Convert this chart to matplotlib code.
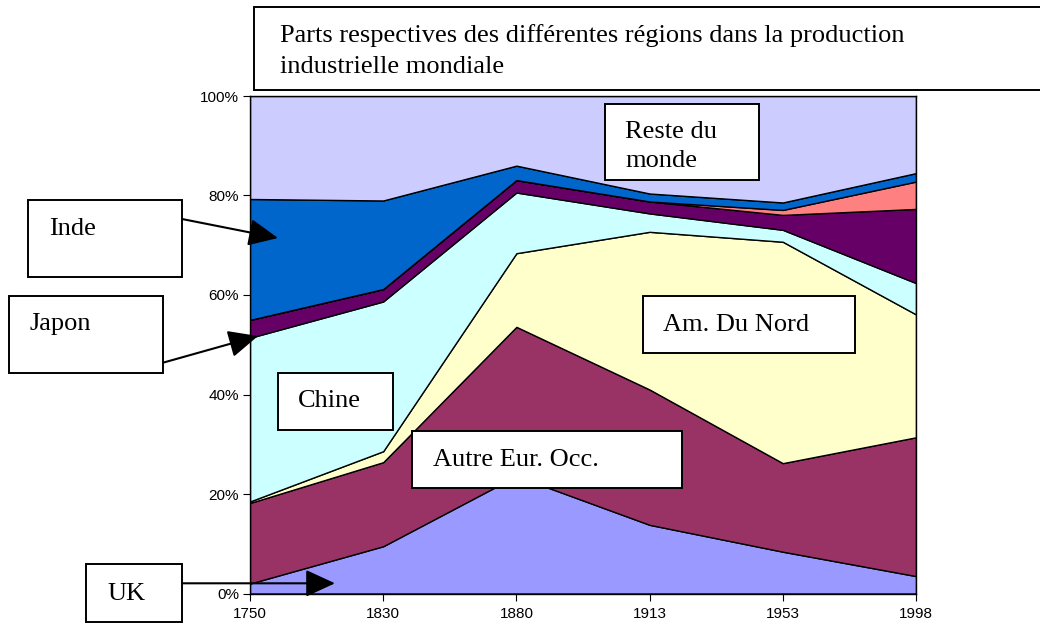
import matplotlib
matplotlib.use("Agg")
import matplotlib.pyplot as plt
from matplotlib.patches import Rectangle, FancyArrowPatch
import numpy as np

# ---- data (percent shares of world industrial production) ----
years = ["1750", "1830", "1880", "1913", "1953", "1998"]
uk = [2.0, 9.5, 23.6, 13.8, 8.4, 3.5]
autre_eur_occ = [16.2, 16.9, 30.0, 27.2, 17.8, 27.9]
am_du_nord = [0.3, 2.2, 14.8, 31.7, 44.5, 24.7]
chine = [32.9, 30.1, 12.2, 3.7, 2.4, 6.3]
japon = [3.6, 2.5, 2.5, 2.4, 3.0, 14.9]
autres_asie = [0.0, 0.0, 0.0, 0.0, 1.0, 5.5]
inde = [24.3, 17.8, 2.9, 1.6, 1.5, 1.7]
series = [uk, autre_eur_occ, am_du_nord, chine, japon, autres_asie, inde]
reste_du_monde = [100 - sum(s[i] for s in series) for i in range(len(years))]

colors = ["#9999FF", "#993366", "#FFFFCC", "#CCFFFF", "#660066",
          "#FF8080", "#0066CC", "#CCCCFF"]

title_lines = ["Parts respectives des différentes régions dans la production",
               "industrielle mondiale"]
yticks = [0, 20, 40, 60, 80, 100]
ytick_labels = ["0%", "20%", "40%", "60%", "80%", "100%"]

W, H = 1040, 625
fig = plt.figure(figsize=(W / 100, H / 100), dpi=100)

def fx(px):
    return px / W

def fy(py):
    return 1 - py / H

ax = fig.add_axes([fx(250), fy(593.5), fx(916) - fx(250), fy(96) - fy(593.5)])
x = np.arange(len(years))
all_series = series + [reste_du_monde]
ax.stackplot(x, *all_series, colors=colors, edgecolor="black", linewidth=1.0)
ax.set_xlim(0, len(years) - 1)
ax.set_ylim(0, 100)
ax.set_xticks(x)
ax.set_xticklabels(years)
ax.set_yticks(yticks)
ax.set_yticklabels(ytick_labels)
ax.tick_params(axis="both", direction="out", length=5, width=0.8,
               labelsize=11, colors="black")
ax.tick_params(axis="x", pad=5)
ax.tick_params(axis="y", pad=3)
for lab in ax.get_xticklabels() + ax.get_yticklabels():
    lab.set_fontfamily("Liberation Sans")
for sp in ax.spines.values():
    sp.set_color("black")
    sp.set_linewidth(1.0)

serif = "Liberation Serif"
FS = 19

def box(x0, y0, x1, y1, lines, tx, baselines):
    r = Rectangle((fx(x0), fy(y1)), fx(x1) - fx(x0), fy(y0) - fy(y1),
                  transform=fig.transFigure, facecolor="white",
                  edgecolor="black", linewidth=1.4, zorder=5)
    fig.add_artist(r)
    for line, by in zip(lines, baselines):
        fig.text(fx(tx), fy(by), line, fontsize=FS, family=serif,
                 ha="left", va="baseline", zorder=6)

def arrow(x0, y0, x1, y1):
    a = FancyArrowPatch((fx(x0), fy(y0)), (fx(x1), fy(y1)),
                        transform=fig.transFigure,
                        arrowstyle="-|>,head_length=1.3,head_width=0.6",
                        mutation_scale=14, color="black", linewidth=1.5,
                        shrinkA=0, shrinkB=0, zorder=7)
    fig.add_artist(a)

box(254, 7, 1045, 90, title_lines, 280, [42, 73])
box(605, 104, 759, 180, ["Reste du", "monde"], 625, [138, 167])
box(28, 200, 182, 277, ["Inde"], 49, [235])
box(9, 296, 163, 373, ["Japon"], 29, [330])
box(278, 373, 393, 430, ["Chine"], 298, [407])
box(412, 431, 682, 488, ["Autre Eur. Occ."], 433, [466])
box(643, 296, 855, 353, ["Am. Du Nord"], 663, [331])
box(86, 564, 182, 622, ["UK"], 107, [600])

arrow(182, 219, 278, 238)
arrow(163, 362.7, 258, 336)
arrow(182, 583.3, 335, 583.3)

fig.savefig("out.png", dpi=100, facecolor="white")
